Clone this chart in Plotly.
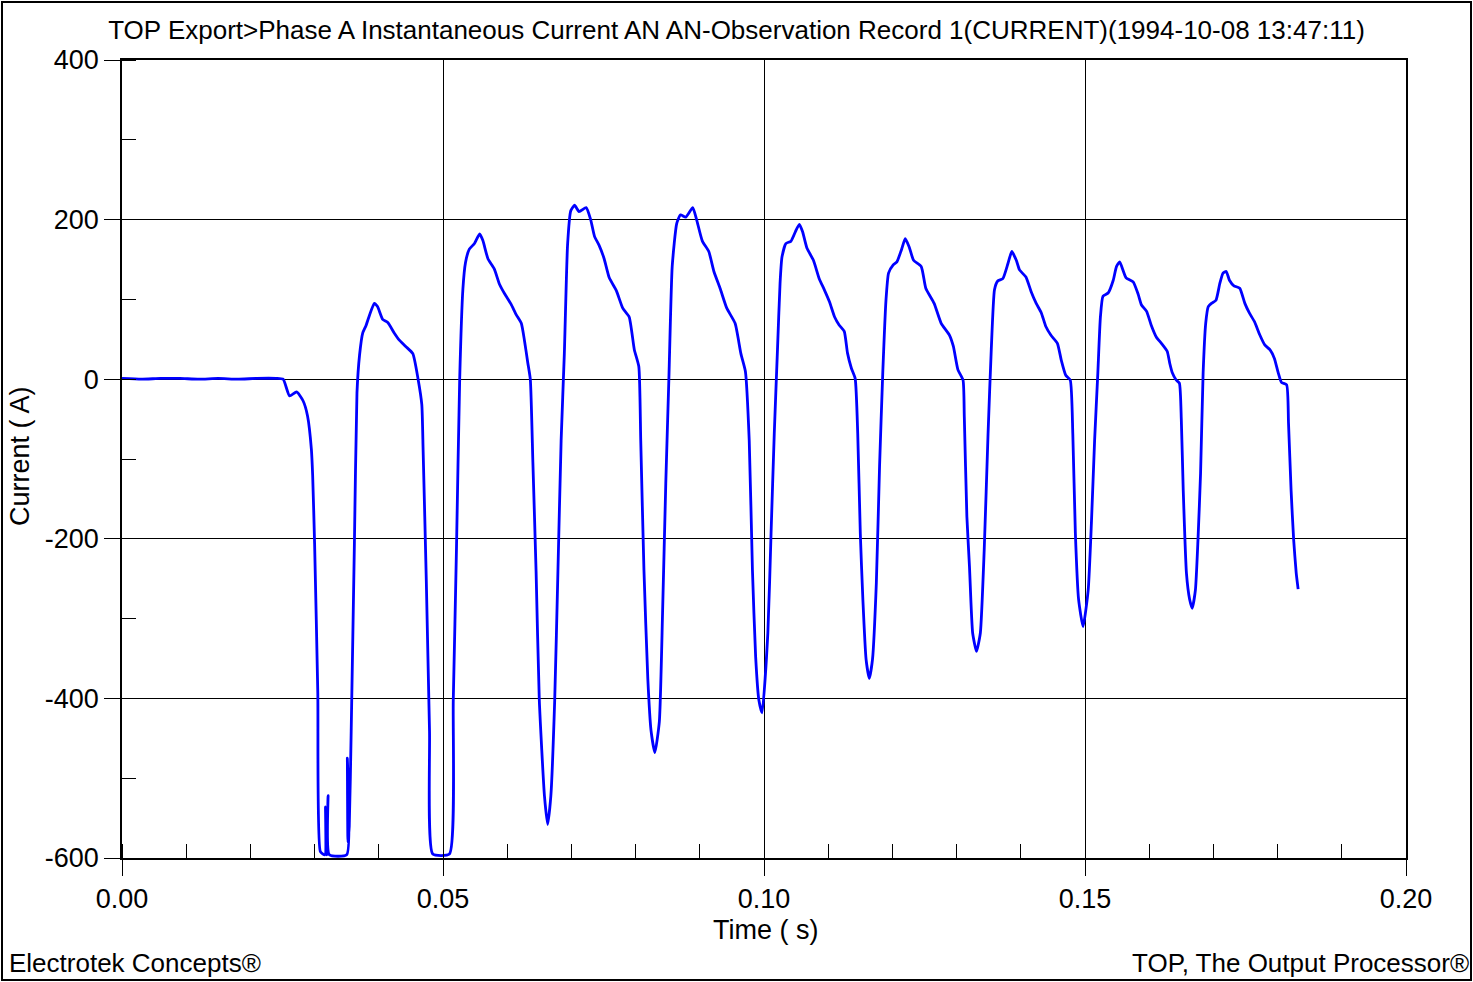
import plotly.graph_objects as go

time_s = [
    0.0000, 0.0030, 0.0060, 0.0090, 0.0120, 0.0150, 0.0180, 0.0210, 0.0240, 0.0251,
    0.0261, 0.0272, 0.0282, 0.0289, 0.0295, 0.0297, 0.0300, 0.0305, 0.0309, 0.0316,
    0.0317, 0.0319, 0.0321, 0.0323, 0.0350, 0.0351, 0.0352, 0.0354, 0.0357, 0.0362,
    0.0366, 0.0370, 0.0375, 0.0380, 0.0385, 0.0393, 0.0398, 0.0406, 0.0414, 0.0424,
    0.0432, 0.0442, 0.0453, 0.0461, 0.0467, 0.0469, 0.0474, 0.0479, 0.0484, 0.0510,
    0.0516, 0.0521, 0.0526, 0.0531, 0.0535, 0.0541, 0.0549, 0.0557, 0.0562, 0.0570,
    0.0580, 0.0588, 0.0596, 0.0606, 0.0614, 0.0622, 0.0627, 0.0632, 0.0636, 0.0640,
    0.0645, 0.0650, 0.0658, 0.0663, 0.0668, 0.0674, 0.0679, 0.0684, 0.0689, 0.0694,
    0.0699, 0.0705, 0.0712, 0.0723, 0.0730, 0.0736, 0.0743, 0.0751, 0.0759, 0.0770,
    0.0780, 0.0790, 0.0798, 0.0805, 0.0808, 0.0813, 0.0819, 0.0824, 0.0830, 0.0837,
    0.0842, 0.0847, 0.0852, 0.0857, 0.0864, 0.0870, 0.0878, 0.0889, 0.0895, 0.0904,
    0.0914, 0.0922, 0.0932, 0.0942, 0.0955, 0.0964, 0.0971, 0.0977, 0.0982, 0.0987,
    0.0992, 0.0997, 0.1006, 0.1011, 0.1016, 0.1021, 0.1025, 0.1028, 0.1034, 0.1042,
    0.1049, 0.1055, 0.1060, 0.1067, 0.1077, 0.1086, 0.1094, 0.1102, 0.1110, 0.1117,
    0.1125, 0.1130, 0.1136, 0.1142, 0.1146, 0.1150, 0.1154, 0.1159, 0.1164, 0.1169,
    0.1175, 0.1180, 0.1185, 0.1190, 0.1194, 0.1201, 0.1207, 0.1214, 0.1220, 0.1226,
    0.1233, 0.1245, 0.1252, 0.1265, 0.1276, 0.1289, 0.1295, 0.1302, 0.1310, 0.1312,
    0.1316, 0.1320, 0.1325, 0.1331, 0.1337, 0.1343, 0.1349, 0.1354, 0.1359, 0.1364,
    0.1372, 0.1380, 0.1386, 0.1393, 0.1398, 0.1408, 0.1416, 0.1424, 0.1432, 0.1439,
    0.1447, 0.1457, 0.1463, 0.1470, 0.1477, 0.1481, 0.1485, 0.1490, 0.1497, 0.1505,
    0.1510, 0.1515, 0.1520, 0.1524, 0.1528, 0.1536, 0.1544, 0.1549, 0.1554, 0.1559,
    0.1564, 0.1575, 0.1583, 0.1588, 0.1596, 0.1603, 0.1611, 0.1619, 0.1628, 0.1632,
    0.1636, 0.1642, 0.1647, 0.1650, 0.1653, 0.1658, 0.1663, 0.1667, 0.1672, 0.1676,
    0.1680, 0.1684, 0.1688, 0.1692, 0.1697, 0.1704, 0.1710, 0.1715, 0.1720, 0.1725,
    0.1732, 0.1741, 0.1749, 0.1756, 0.1764, 0.1772, 0.1780, 0.1788, 0.1795, 0.1801,
    0.1806, 0.1814, 0.1817, 0.1821, 0.1825, 0.1829, 0.1832,
]

current_a = [
    1, 0, 1, 1, 0, 1, 0, 1, 1, 0,
    -21, -16, -27, -46, -88, -121, -206, -394, -592, -596,
    -536, -596, -522, -596, -596, -475, -580, -560, -441, -206,
    -17, 30, 58, 67, 79, 95, 91, 75, 71, 58,
    49, 41, 32, 1, -32, -88, -253, -441, -595, -595,
    -402, -212, 0, 113, 146, 163, 170, 182, 174, 151,
    138, 119, 107, 94, 81, 70, 48, 21, 0, -104,
    -241, -402, -522, -558, -522, -402, -241, -77, 32, 168,
    211, 218, 210, 215, 200, 179, 168, 151, 127, 111,
    89, 78, 37, 16, -77, -239, -375, -440, -468, -429,
    -293, -131, 5, 141, 195, 206, 203, 215, 200, 173,
    160, 135, 113, 89, 70, 32, 10, -77, -239, -348,
    -402, -418, -318, -193, -68, 37, 120, 153, 170, 173,
    185, 194, 185, 164, 149, 126, 112, 97, 78, 68,
    60, 33, 14, 1, -68, -193, -276, -351, -375, -351,
    -255, -109, 8, 99, 133, 143, 147, 162, 176, 166,
    149, 141, 114, 95, 70, 55, 41, 12, -1, -47,
    -172, -234, -318, -341, -318, -214, -68, 37, 112, 123,
    126, 145, 160, 149, 137, 128, 110, 95, 83, 66,
    55, 45, 24, 5, -1, -68, -193, -276, -310, -264,
    -180, -76, 8, 78, 104, 108, 124, 141, 147, 137,
    127, 122, 106, 93, 85, 68, 53, 45, 35, 20,
    8, -1, -5, -50, -139, -243, -276, -287, -264, -201,
    -118, 8, 70, 91, 95, 99, 120, 133, 135, 124,
    117, 114, 95, 83, 72, 56, 43, 37, 26, 8,
    -4, -7, -55, -139, -201, -243, -263,
]

x_tick_vals = [0.0, 0.05, 0.10, 0.15, 0.20]
x_tick_text = ["0.00", "0.05", "0.10", "0.15", "0.20"]
y_tick_vals = [-600, -400, -200, 0, 200, 400]
y_tick_text = ["-600", "-400", "-200", "0", "200", "400"]

title_text = "TOP Export>Phase A Instantaneous Current AN AN-Observation Record 1(CURRENT)(1994-10-08 13:47:11)"
x_title = "Time ( s)"
y_title = "Current ( A)"
footer_left = "Electrotek Concepts®"
footer_right = "TOP, The Output Processor®"

FONT = "Liberation Sans, Arial, sans-serif"
W, H = 1473, 982
L, R, T, B = 122, 67, 60, 124
pw, ph = W - L - R, H - T - B

fig = go.Figure()
fig.add_trace(go.Scatter(x=time_s, y=current_a, mode="lines",
                         line=dict(color="#0000FF", width=2.8, shape="spline", smoothing=0.5),
                         showlegend=False))

axis_common = dict(
    showline=True, linecolor="black", linewidth=1.5, mirror=True,
    showgrid=True, gridcolor="black", gridwidth=1, zeroline=False,
    ticks="outside", ticklen=16, tickcolor="black", tickwidth=1,
    tickfont=dict(family=FONT, size=27, color="black"),
)

fig.update_xaxes(range=[0, 0.2], tickmode="array", tickvals=x_tick_vals, ticktext=x_tick_text,
                 minor=dict(ticks="inside", dtick=0.01, tick0=0, ticklen=14, tickcolor="black",
                            tickwidth=1, showgrid=False),
                 **axis_common)
fig.update_yaxes(range=[-600, 400], tickmode="array", tickvals=y_tick_vals, ticktext=y_tick_text,
                 minor=dict(ticks="inside", dtick=100, tick0=0, ticklen=14, tickcolor="black",
                            tickwidth=1, showgrid=False),
                 **axis_common)

def px_x(p):
    return (p - L) / pw

def px_y(p):
    return (H - B - p) / ph

annotations = [
    dict(text=x_title, x=px_x(765), y=px_y(930), xref="paper", yref="paper",
         showarrow=False, font=dict(family=FONT, size=27, color="black"),
         xanchor="center", yanchor="middle"),
    dict(text=y_title, x=px_x(20), y=px_y(456), xref="paper", yref="paper",
         showarrow=False, textangle=-90, font=dict(family=FONT, size=27, color="black"),
         xanchor="center", yanchor="middle"),
    dict(text=footer_left, x=px_x(7), y=px_y(963), xref="paper", yref="paper",
         showarrow=False, font=dict(family=FONT, size=26, color="black"),
         xanchor="left", yanchor="middle"),
    dict(text=footer_right, x=px_x(1471), y=px_y(963), xref="paper", yref="paper",
         showarrow=False, font=dict(family=FONT, size=26, color="black"),
         xanchor="right", yanchor="middle"),
]

fig.update_layout(
    width=W, height=H,
    margin=dict(l=L, r=R, t=T, b=B),
    paper_bgcolor="white", plot_bgcolor="white",
    title=dict(text=title_text, x=0.5, xref="container", xanchor="center",
               y=1 - 30 / H, yref="container", yanchor="middle",
               font=dict(family=FONT, size=26, color="black")),
    annotations=annotations,
    shapes=[dict(type="rect", xref="paper", yref="paper",
                 x0=px_x(2), x1=px_x(1471), y0=px_y(980), y1=px_y(2),
                 line=dict(color="black", width=2), fillcolor="rgba(0,0,0,0)", layer="above")],
)

fig.write_html("out.html")
